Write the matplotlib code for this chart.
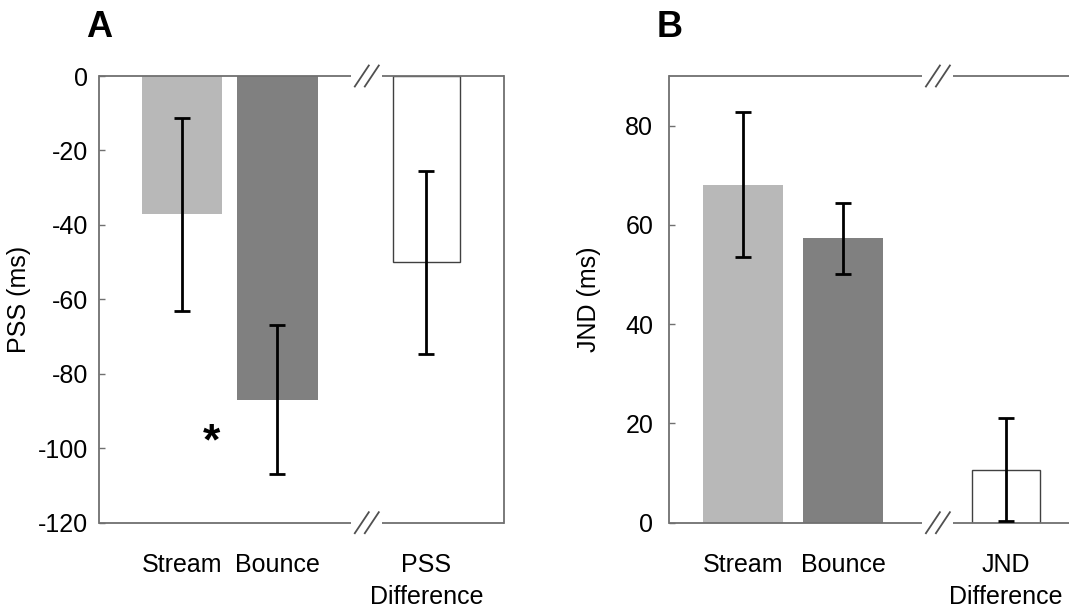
import matplotlib
matplotlib.use("Agg")
import matplotlib.pyplot as plt
import numpy as np

plt.rcParams['font.family'] = ['Liberation Sans', 'DejaVu Sans']
plt.rcParams['axes.unicode_minus'] = False

# panel A: PSS
pss_labels = ["Stream", "Bounce", "PSS\nDifference"]
pss_mean = [-37.2, -87.0, -50.1]
pss_err = [26.0, 20.0, 24.7]

# panel B: JND
jnd_labels = ["Stream", "Bounce", "JND\nDifference"]
jnd_mean = [68.1, 57.3, 10.7]
jnd_err = [14.6, 7.2, 10.4]

colors = ["#b8b8b8", "#808080", "white"]
frame_col = "#707070"
W, H = 1069, 608

fig = plt.figure(figsize=(W/100, H/100), dpi=100)

def px(x0, y0, x1, y1):
    return [x0/W, 1 - y1/H, (x1-x0)/W, (y1-y0)/H]

def panel(rect, xs, widths, means, errs, labels, xlim, ylim, yticks, brk, ylabel, letter, ypad, right_spine):
    ax = fig.add_axes(rect)
    for i in range(3):
        if i < 2:
            ax.bar(xs[i], means[i], width=widths[i], color=colors[i], edgecolor="none", zorder=2)
        else:
            ax.bar(xs[i], means[i], width=widths[i], color="white", edgecolor="#404040",
                   linewidth=1.0, zorder=2)
    ax.errorbar(xs, means, yerr=errs, fmt="none", ecolor="black", elinewidth=2.0,
                capsize=5.8, capthick=2.0, zorder=3)
    ax.set_xlim(*xlim)
    ax.set_ylim(*ylim)
    ax.set_yticks(yticks)
    ax.set_xticks(xs)
    ax.set_xticklabels(labels, fontsize=18, linespacing=1.4)
    ax.tick_params(axis="x", length=0, pad=22)
    ax.tick_params(axis="y", direction="in", length=4.5, width=1.0, color=frame_col,
                   labelsize=18, pad=ypad)
    for s in ["top", "bottom", "right"]:
        ax.spines[s].set_visible(False)
    ax.spines["left"].set_color(frame_col)
    ax.spines["left"].set_linewidth(1.3)
    if right_spine:
        ax.spines["right"].set_visible(True)
        ax.spines["right"].set_color(frame_col)
        ax.spines["right"].set_linewidth(1.3)

    # broken top / bottom frame
    axw = rect[2] * W
    axh = rect[3] * H
    ux = (xlim[1] - xlim[0]) / axw
    gap = 15.5 * ux
    tr = ax.get_xaxis_transform()
    for yy in [0, 1]:
        ax.plot([xlim[0], brk - gap], [yy, yy], color=frame_col, lw=1.3, transform=tr,
                clip_on=False, solid_capstyle="butt")
        ax.plot([brk + gap, xlim[1]], [yy, yy], color=frame_col, lw=1.3, transform=tr,
                clip_on=False, solid_capstyle="butt")
        for off in [-5, 5]:
            ax.plot([brk + (off - 7) * ux, brk + (off + 7) * ux],
                    [yy - 10.5/axh, yy + 10.5/axh], color="#505050", lw=1.3,
                    transform=tr, clip_on=False)

    ax.text(-80/axw, 0.5, ylabel, rotation=90, ha="center", va="center", fontsize=18,
            transform=ax.transAxes)
    ax.text(0, 1 + 49/axh, letter, ha="center", va="center", fontsize=26, fontweight="bold",
            transform=ax.transAxes)
    return ax

# panel A
axA = panel(px(98.7, 76, 504.3, 522.7), [0, 1, 2.56], [0.84, 0.84, 0.71],
            pss_mean, pss_err, pss_labels, (-0.87, 3.375), (-120, 0),
            np.arange(-120, 1, 20), 1.936, "PSS (ms)", "A", 7.5, True)
axA.text(0.31, -98.5, "*", ha="center", va="center", fontsize=32, fontweight="bold")

# panel B
axB = panel(px(669.3, 76, 1069, 522.7), [0, 1, 2.615], [0.795, 0.795, 0.68],
            jnd_mean, jnd_err, jnd_labels, (-0.73, 3.243), (0, 90),
            np.arange(0, 81, 20), 1.94, "JND (ms)", "B", 11.5, False)

fig.savefig("out.png", dpi=100)
